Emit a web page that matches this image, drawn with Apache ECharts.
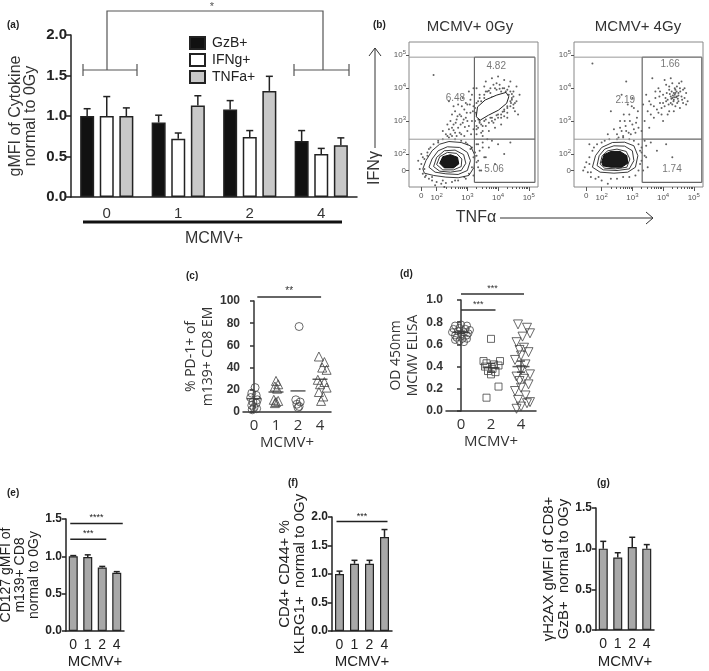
<!DOCTYPE html>
<html><head><meta charset="utf-8">
<script src="https://cdn.jsdelivr.net/npm/echarts@6/dist/echarts.min.js"></script>
<style>html,body{margin:0;padding:0;background:#fff}#c{width:709px;height:671px}</style>
</head><body><div id="c"></div>
<script>
// ---------- (a) ----------
const aCats = ['0','1','2','4'];
const aGzB = [1.00, 0.92, 1.08, 0.69];
const aGzBErr = [0.09, 0.09, 0.11, 0.13];
const aIFNg = [1.00, 0.72, 0.74, 0.53];
const aIFNgErr = [0.24, 0.07, 0.08, 0.07];
const aTNFa = [1.00, 1.13, 1.31, 0.64];
const aTNFaErr = [0.10, 0.12, 0.18, 0.09];

// ---------- (b) flow plots (axis units: 0 -> 1.5, 10^n -> n) ----------
const bTickVals = [1.5, 2, 3, 4, 5];
const bTickNames = ['0', '2', '3', '4', '5'];
const bPct0Gy = [[3.94, 4.67, '4.82'], [2.61, 3.70, '6.48'], [3.87, 1.53, '5.06']];
const bPct4Gy = [[4.23, 4.73, '1.66'], [2.77, 3.64, '2.19'], [4.29, 1.55, '1.74']];
const bGatesLight0Gy = [[1.1, 4.94, 3.23, 4.94], [1.1, 2.45, 3.23, 2.45]];
const bGatesDark0Gy = [[3.23, 4.94, 5.2, 4.94], [3.23, 2.45, 5.2, 2.45], [3.23, 1.14, 3.23, 4.94], [5.2, 1.14, 5.2, 4.94], [3.23, 1.14, 5.2, 1.14]];
const bGatesLight4Gy = [[1.1, 4.94, 3.32, 4.94], [1.1, 2.45, 3.32, 2.45]];
const bGatesDark4Gy = [[3.32, 4.94, 5.26, 4.94], [3.32, 2.45, 5.26, 2.45], [3.32, 1.14, 3.32, 4.94], [5.26, 1.14, 5.26, 4.94], [3.32, 1.14, 5.26, 1.14]];
const bRings0Gy = [
  [[1.55,1.55],[1.65,1.8],[1.85,2.1],[2.1,2.3],[2.4,2.38],[2.8,2.35],[3.1,2.25],[3.25,1.95],[3.22,1.6],[3.05,1.35],[2.7,1.28],[2.3,1.3],[1.9,1.35],[1.6,1.42]],
  [[1.75,1.6],[1.85,1.85],[2.05,2.1],[2.35,2.22],[2.75,2.2],[3.0,2.05],[3.1,1.8],[3.0,1.5],[2.7,1.38],[2.3,1.4],[1.95,1.45]],
  [[1.9,1.62],[2.0,1.9],[2.25,2.1],[2.6,2.12],[2.88,1.98],[2.95,1.72],[2.8,1.5],[2.45,1.45],[2.1,1.48]],
  [[2.0,1.68],[2.1,1.92],[2.35,2.05],[2.65,2.02],[2.82,1.85],[2.8,1.62],[2.55,1.52],[2.2,1.52]]
];
const bCore0Gy = [[[2.1,1.72],[2.2,1.92],[2.45,1.98],[2.68,1.9],[2.72,1.7],[2.55,1.58],[2.25,1.58]]];
const bBlob0Gy = [[[3.29,3.13],[3.33,3.43],[3.58,3.64],[3.96,3.79],[4.26,3.87],[4.35,3.74],[4.28,3.54],[4.01,3.33],[3.69,3.18],[3.42,3.03]]];
const bDots0Gy = [
  [1.45,1.55],[1.5,1.7],[1.55,1.4],[1.6,1.85],[1.62,1.3],[1.7,2.05],[1.75,1.25],[1.8,2.2],[1.85,1.2],[1.9,2.3],[2.0,1.15],[2.05,2.4],[2.15,1.1],[2.2,2.45],[2.3,1.12],[2.4,2.5],[2.5,1.15],[2.6,2.45],[2.7,1.2],[2.8,2.4],[2.9,1.3],[3.0,2.3],[3.05,1.4],[3.1,2.15],[3.15,1.6],[3.2,1.9],[3.25,2.05],[3.3,1.75],[3.35,2.3],[3.4,1.5],[1.5,2.0],[1.4,1.8],[3.5,2.2],[3.55,1.9],[2.25,1.0],[1.95,1.05],
  [1.6,1.55],[1.7,1.95],[1.65,1.35],[2.95,2.35],[3.15,2.2],[3.3,1.95],[3.35,1.6],[3.2,1.35],[2.95,1.25],[2.6,1.2],[2.2,1.2],[1.85,1.3],[1.55,1.9],[1.75,2.15],[2.05,2.35],
  [2.3,2.6],[2.4,2.75],[2.5,2.55],[2.55,2.9],[2.6,2.65],[2.65,3.05],[2.7,2.8],[2.75,3.2],[2.8,2.6],[2.85,2.95],[2.9,3.35],[2.95,3.1],[3.0,2.7],[3.0,3.5],[3.05,2.85],[3.1,3.25],[3.1,3.65],[3.15,3.0],[3.2,2.75],[3.2,3.45],[2.45,3.0],[2.6,3.3],[2.7,3.5],[2.85,3.7],[2.5,3.2],[2.9,2.55],[3.15,3.8],[2.35,2.9],[2.2,2.7],[2.75,2.65],[3.05,3.9],[2.95,3.55],[2.8,3.15],[2.65,2.55],[3.2,4.0],[2.55,3.45],[1.9,4.4],[2.4,3.6],
  [2.45,2.6],[2.55,2.72],[2.62,2.95],[2.78,2.9],[2.88,3.05],[2.98,3.25],[3.08,3.5],[3.12,2.6],[2.68,3.15],[2.92,2.82],[3.18,3.3],[2.82,3.45],[2.5,2.8],[2.35,2.55],[3.0,3.0],
  [3.3,2.6],[3.35,2.8],[3.4,3.0],[3.3,3.2],[3.45,3.4],[3.35,3.6],[3.5,2.7],[3.55,3.7],[3.6,2.85],[3.65,3.9],[3.7,2.95],[3.75,4.0],[3.8,3.0],[3.85,4.1],[3.9,3.05],[3.95,4.15],[4.0,3.1],[4.05,4.1],[4.1,3.2],[4.15,4.0],[4.2,3.3],[4.25,3.9],[4.3,3.45],[4.35,3.8],[4.4,3.6],[4.45,3.7],[4.5,3.5],[4.5,3.9],[4.55,3.3],[4.6,4.05],[3.4,3.8],[3.3,4.0],[3.6,4.2],[3.5,2.55],[3.7,2.7],[3.9,2.8],[4.1,2.9],[4.3,3.1],[4.6,3.6],[4.7,3.8],[4.0,4.35],[3.8,4.3],[4.4,4.2],[3.25,3.4],[3.45,2.65],[4.65,3.2],[4.2,4.25],[3.55,4.05],
  [3.25,3.0],[3.3,3.55],[3.4,3.7],[3.55,3.8],[3.7,3.92],[3.95,3.95],[4.2,4.0],[4.4,3.9],[4.45,3.65],[4.4,3.45],[4.2,3.35],[4.0,3.2],[3.8,3.1],[3.6,3.05],[3.45,2.9],[3.3,2.85],[4.3,3.25],[4.1,3.1],
  [3.35,3.15],[3.38,3.35],[3.5,3.5],[3.65,3.6],[3.8,3.72],[4.1,3.9],[4.3,3.95],[4.45,3.82],[4.42,3.55],[4.3,3.4],[4.15,3.28],[3.95,3.18],[3.75,3.1],[3.55,3.0],[3.4,2.95],[3.28,3.25],[3.36,3.05],[4.5,3.75],[4.35,4.05],[3.9,4.0],[3.6,3.9],[3.45,3.6],[4.5,3.4],[4.2,3.15],[3.85,2.95],[3.5,2.85],[3.3,2.75],[4.05,3.98],[3.75,3.85],[4.55,3.55],
  [3.3,2.3],[3.4,2.1],[3.5,2.35],[3.6,1.9],[3.7,2.2],[3.8,2.4],[3.9,1.7],[4.0,2.3],[4.2,2.0],[3.45,1.5],[3.35,1.8],[4.4,2.35],[3.65,2.45]
];
const bRings4Gy = [
  [[1.7,1.6],[1.8,1.95],[2.0,2.2],[2.35,2.35],[2.75,2.36],[3.05,2.25],[3.18,1.95],[3.1,1.6],[2.85,1.45],[2.4,1.42],[1.95,1.45]],
  [[1.85,1.65],[1.92,1.95],[2.1,2.15],[2.4,2.25],[2.75,2.24],[3.0,2.1],[3.05,1.8],[2.9,1.55],[2.5,1.5],[2.05,1.52]],
  [[1.95,1.7],[2.02,1.95],[2.2,2.1],[2.5,2.15],[2.8,2.08],[2.92,1.85],[2.82,1.6],[2.45,1.55],[2.1,1.57]]
];
const bCore4Gy = [[[2.0,1.75],[2.08,1.98],[2.3,2.08],[2.6,2.08],[2.82,1.95],[2.85,1.72],[2.65,1.6],[2.3,1.6],[2.05,1.64]]];
const bDots4Gy = [
  [1.45,1.6],[1.55,1.45],[1.6,1.9],[1.65,1.3],[1.7,2.1],[1.8,1.25],[1.85,2.3],[2.0,1.2],[2.1,2.4],[2.3,1.25],[2.5,2.45],[2.7,1.3],[2.9,2.45],[3.1,1.35],[3.2,2.3],[3.25,1.7],[3.3,2.05],[1.5,1.75],[1.4,1.5],[3.35,1.5],[2.2,1.1],[1.6,2.3],
  [1.6,1.7],[1.75,2.2],[2.0,2.35],[2.25,2.45],[2.7,2.5],[3.05,2.4],[3.25,2.1],[3.3,1.8],[3.2,1.5],[2.9,1.3],[2.5,1.25],[1.9,1.3],[1.65,1.45],[3.4,1.95],[3.45,2.25],
  [2.5,2.6],[2.6,2.8],[2.7,2.55],[2.75,3.0],[2.8,2.7],[2.9,3.2],[2.95,2.6],[3.0,2.9],[3.05,3.4],[3.1,2.65],[3.15,3.1],[3.2,2.8],[2.85,3.5],[2.6,3.0],[3.0,3.7],[2.4,2.75],[2.2,2.6],[1.7,4.75],[2.8,4.2],[2.3,3.3],[2.65,3.8],
  [2.55,2.5],[2.65,2.7],[2.78,2.85],[2.92,3.0],[3.05,2.75],[3.12,2.95],[3.18,3.3],[2.88,2.65],[2.98,3.45],[2.72,3.2],
  [3.3,2.7],[3.4,3.0],[3.5,3.3],[3.55,2.8],[3.6,3.5],[3.7,3.1],[3.75,3.7],[3.8,3.35],[3.85,4.0],[3.9,3.55],[3.95,3.2],[4.0,3.8],[4.05,3.45],[4.1,4.1],[4.15,3.65],[4.2,3.3],[4.2,3.95],[4.25,3.75],[4.3,3.5],[4.3,4.15],[4.35,3.85],[4.35,3.65],[4.4,3.95],[4.4,3.45],[4.45,3.75],[4.45,4.05],[4.5,3.6],[4.5,3.85],[4.55,3.4],[4.55,4.0],[4.6,3.75],[4.65,3.55],[4.65,3.95],[4.7,3.7],[4.75,3.85],[4.8,3.6],[4.3,3.7],[4.38,3.8],[4.42,3.72],[4.28,3.9],[4.48,3.68],[4.25,3.55],[4.6,4.2],[3.45,3.8],[3.65,4.3],[4.0,3.0],[3.35,3.5],[4.1,3.6],[3.9,3.9],[4.05,4.25],
  [4.32,3.78],[4.36,3.72],[4.4,3.85],[4.44,3.9],[4.34,3.6],[4.22,3.82],[4.27,3.68],[4.5,3.78],[4.46,3.55],[4.18,3.5],[4.12,3.85],[4.56,3.9],[4.62,3.65],[4.38,4.0],[4.2,4.05],[4.08,3.7],[4.0,3.55],[3.95,3.4],[3.85,3.25],[3.7,3.45],[3.6,3.2],[3.55,3.6],[3.75,3.9],[3.88,3.75],[4.7,4.0],[4.75,3.5],[4.52,4.15],[4.25,4.3],[4.35,3.3],[4.15,3.2],
  [3.3,2.2],[3.45,1.9],[3.6,2.35],[3.8,2.1],[4.1,2.3],[3.5,1.6],[4.3,1.9],[3.4,2.4]
];

// ---------- (c) ----------
const cCats = ['0','1','2','4'];
const cG0 = [[0.05,22],[-0.1,17],[0.1,15],[-0.15,13],[0.15,11],[-0.05,9],[0.1,8],[-0.1,6],[0.0,4],[0.12,3],[-0.08,2]];
const cG1 = [[0,28],[0.1,25],[-0.05,23],[0.05,21],[-0.1,11],[0.1,10],[0,9],[-0.05,8]];
const cG2 = [[0.05,77],[-0.1,11],[0.1,9],[-0.05,7],[0.05,5],[0.0,4]];
const cG4 = [[-0.05,50],[0.2,45],[0.1,40],[0.3,38],[-0.1,29],[0.2,27],[0.0,25],[0.3,22],[-0.05,18],[0.15,14],[0.05,10]];
const cMeans = [12, 18, 19, 29.5];

// ---------- (d) ----------
const dCats = ['0','2','4'];
const dG0 = [[-0.2,0.77],[0.0,0.78],[0.2,0.77],[-0.25,0.74],[-0.05,0.75],[0.15,0.74],[0.3,0.73],[-0.3,0.71],[-0.1,0.72],[0.1,0.71],[0.25,0.70],[-0.2,0.68],[0.0,0.69],[0.2,0.68],[-0.15,0.66],[0.05,0.65],[0.2,0.65],[-0.05,0.63],[0.1,0.62],[-0.2,0.64]];
const dG2 = [[0.0,0.65],[-0.25,0.45],[0.3,0.45],[-0.15,0.43],[0.1,0.42],[0.25,0.41],[-0.2,0.40],[0.05,0.38],[-0.1,0.36],[0.15,0.35],[0.0,0.33],[0.25,0.22],[-0.15,0.12]];
const dG4 = [[-0.1,0.78],[0.2,0.75],[0.3,0.70],[0.05,0.67],[-0.15,0.62],[0.1,0.57],[-0.05,0.55],[0.25,0.53],[0.0,0.50],[-0.2,0.46],[0.15,0.42],[0.0,0.37],[0.3,0.33],[-0.15,0.31],[0.1,0.29],[-0.05,0.27],[0.25,0.24],[0.0,0.21],[-0.2,0.18],[0.15,0.14],[-0.1,0.10],[0.2,0.07],[0.0,0.04],[-0.15,0.02],[0.3,0.08]];
const dMeans = [0.71, 0.39, 0.40];
const dSem = [0.01, 0.04, 0.05];

// ---------- (e) (f) (g) ----------
const eCats = ['0','1','2','4'];
const eVals = [1.00, 0.99, 0.85, 0.78];
const eErr = [0.01, 0.03, 0.015, 0.015];
const fVals = [1.00, 1.18, 1.18, 1.65];
const fErr = [0.05, 0.06, 0.06, 0.13];
const gVals = [1.00, 0.89, 1.02, 1.00];
const gErr = [0.09, 0.06, 0.12, 0.05];

// ================= helpers =================
const SANS = 'Liberation Sans';
const NARROW = "'Liberation Sans Narrow', 'Liberation Sans'";
const OPEN = "'Open Sans', 'Noto Sans'";
const INK = '#222';

function errSeries(xi, yi, vals, errs, offset, capW, color) {
  return {
    type: 'custom', xAxisIndex: xi, yAxisIndex: yi, silent: true, z: 3,
    data: vals.map((v, i) => [i, v, errs[i]]),
    renderItem: (p, api) => {
      const i = api.value(0), v = api.value(1), e = api.value(2);
      const a = api.coord([i, v]), b = api.coord([i, v + e]);
      const x = a[0] + offset;
      const st = { stroke: color || INK, lineWidth: 1.5 };
      return { type: 'group', children: [
        { type: 'line', shape: { x1: x, y1: a[1], x2: x, y2: b[1] }, style: st },
        { type: 'line', shape: { x1: x - capW / 2, y1: b[1], x2: x + capW / 2, y2: b[1] }, style: st }
      ]};
    }
  };
}
function segSeries(xi, yi, segs, color, lw) {
  return {
    type: 'custom', xAxisIndex: xi, yAxisIndex: yi, silent: true, z: 4, data: segs,
    renderItem: (p, api) => {
      const a = api.coord([api.value(0), api.value(1)]), b = api.coord([api.value(2), api.value(3)]);
      return { type: 'line', shape: { x1: a[0], y1: a[1], x2: b[0], y2: b[1] }, style: { stroke: color, lineWidth: lw } };
    }
  };
}
function polySeries(xi, yi, polys, fill, stroke, lw, z) {
  return {
    type: 'custom', xAxisIndex: xi, yAxisIndex: yi, silent: true, z: z,
    data: polys.map((q) => [q[0][0], q[0][1]]),
    renderItem: (p, api) => ({
      type: 'polygon',
      shape: { points: polys[p.dataIndex].map(q => api.coord(q)) },
      style: { fill: fill, stroke: stroke, lineWidth: lw }
    })
  };
}
function sigSeries(xi, yi, sigs, texts, fs, color) {
  return {
    type: 'custom', xAxisIndex: xi, yAxisIndex: yi, silent: true, z: 5, data: sigs,
    renderItem: (p, api) => {
      const a = api.coord([api.value(0), api.value(2)]), b = api.coord([api.value(1), api.value(2)]);
      const x1 = a[0] - api.value(3), x2 = b[0] + api.value(4);
      return { type: 'group', children: [
        { type: 'line', shape: { x1: x1, y1: a[1], x2: x2, y2: a[1] }, style: { stroke: color, lineWidth: 1.5 } },
        { type: 'text', style: { text: texts[p.dataIndex], x: (x1 + x2) / 2, y: a[1] - 1, align: 'center', verticalAlign: 'bottom', fontSize: fs, fill: color, fontFamily: SANS } }
      ]};
    }
  };
}
function jitter(cat, pts) { return pts.map(p => [cat + p[0], p[1]]); }

function flowFmt(v) {
  const i = bTickVals.indexOf(v);
  if (i === 0) return '{b|0}';
  return '{b|10}{s|' + bTickNames[i] + '}';
}
const flowRich = { b: { fontSize: 8, color: '#555', fontFamily: SANS }, s: { fontSize: 6, color: '#555', padding: [0, 0, 6, 0], fontFamily: SANS } };
const minorTicks = [];
[2, 3, 4, 5].forEach(d => { for (let k = 2; k <= 9; k++) { const v = d + Math.log10(k); if (v < 5.3) minorTicks.push(v); } });

function flowX(gi) {
  return [
    { type: 'value', gridIndex: gi, position: 'bottom', min: 1.1, max: 5.3, axisLine: { show: false }, splitLine: { show: false },
      axisTick: { show: true, customValues: bTickVals, length: 4, lineStyle: { color: '#555', width: 1 } },
      axisLabel: { customValues: bTickVals, formatter: flowFmt, rich: flowRich, margin: 5 } },
    { type: 'value', gridIndex: gi, position: 'bottom', offset: 0, min: 1.1, max: 5.3, axisLine: { show: false }, splitLine: { show: false },
      axisTick: { show: true, customValues: minorTicks, length: 2, lineStyle: { color: '#555', width: 1 } },
      axisLabel: { show: false } }
  ];
}
function flowY(gi) {
  return { type: 'value', gridIndex: gi, min: 1.0, max: 5.4, axisLine: { show: false }, splitLine: { show: false },
    axisTick: { show: true, customValues: bTickVals, length: 3, lineStyle: { color: '#555' } },
    axisLabel: { customValues: bTickVals, formatter: flowFmt, rich: flowRich, margin: 3 } };
}

function barCatX(gi, cats, nameGap) {
  return { type: 'category', gridIndex: gi, data: cats,
    axisLine: { lineStyle: { color: INK, width: 1.5 } },
    axisTick: { alignWithLabel: true, length: 4, lineStyle: { color: INK, width: 1.5 } },
    axisLabel: { fontSize: 14, color: INK, fontFamily: NARROW, margin: 7 },
    name: 'MCMV+', nameLocation: 'middle', nameGap: nameGap, nameTextStyle: { fontSize: 15, color: INK, fontFamily: NARROW } };
}
function narrowY(gi, max, interval, name, nameGap, fs) {
  return { type: 'value', gridIndex: gi, min: 0, max: max, interval: interval,
    axisLine: { show: true, lineStyle: { color: INK, width: 1.5 } },
    axisTick: { show: true, length: 4, lineStyle: { color: INK, width: 1.5 } },
    splitLine: { show: false },
    axisLabel: { formatter: v => v.toFixed(1), fontWeight: 'bold', fontSize: 12, color: INK, fontFamily: NARROW, margin: 4 },
    name: name, nameLocation: 'middle', nameRotate: 90, nameGap: nameGap,
    nameTextStyle: { fontSize: fs, lineHeight: fs, color: INK, fontFamily: NARROW } };
}

const grids = [
  { left: 71, top: 35, width: 286, height: 162 },
  { left: 409, top: 42, width: 129, height: 145, show: true, borderColor: '#888', borderWidth: 1 },
  { left: 574, top: 42, width: 129, height: 145, show: true, borderColor: '#888', borderWidth: 1 },
  { left: 243, top: 301, width: 88, height: 111 },
  { left: 446, top: 300, width: 90, height: 111 },
  { left: 66, top: 519, width: 58, height: 112 },
  { left: 332, top: 517, width: 60, height: 114 },
  { left: 596, top: 508, width: 58, height: 122 }
].map(g => Object.assign({ outerBoundsMode: 'none', containLabel: false }, g));

const xAxes = [
  { type: 'category', gridIndex: 0, data: aCats,
    axisLine: { lineStyle: { color: INK, width: 1.5 } },
    axisTick: { alignWithLabel: true, length: 4, lineStyle: { color: INK, width: 1.5 } },
    axisLabel: { fontSize: 15, color: '#333', fontFamily: SANS, margin: 9 },
    name: 'MCMV+', nameLocation: 'middle', nameGap: 34, nameTextStyle: { fontSize: 16, color: '#333', fontFamily: SANS } },
  ...flowX(1),
  ...flowX(2),
  { type: 'category', gridIndex: 3, data: cCats,
    axisLine: { lineStyle: { color: '#333', width: 1.5 } },
    axisTick: { alignWithLabel: true, length: 4, lineStyle: { color: '#333', width: 1.5 } },
    axisLabel: { fontSize: 15, color: '#333', fontFamily: OPEN, margin: 6 },
    name: 'MCMV+', nameLocation: 'middle', nameGap: 23, nameTextStyle: { fontSize: 15, color: '#333', fontFamily: OPEN } },
  { type: 'value', gridIndex: 3, min: -0.5, max: 3.5, show: false },
  { type: 'category', gridIndex: 4, data: dCats,
    axisLine: { lineStyle: { color: '#333', width: 1.5 } },
    axisTick: { alignWithLabel: true, length: 4, lineStyle: { color: '#333', width: 1.5 } },
    axisLabel: { fontSize: 15, color: '#333', fontFamily: OPEN, margin: 6 },
    name: 'MCMV+', nameLocation: 'middle', nameGap: 23, nameTextStyle: { fontSize: 15, color: '#333', fontFamily: OPEN } },
  { type: 'value', gridIndex: 4, min: -0.5, max: 2.5, show: false },
  barCatX(5, eCats, 23),
  barCatX(6, eCats, 23),
  barCatX(7, eCats, 24)
];

const yAxes = [
  { type: 'value', gridIndex: 0, min: 0, max: 2, interval: 0.5,
    axisLine: { show: true, lineStyle: { color: INK, width: 1.5 } },
    axisTick: { show: true, length: 5, lineStyle: { color: INK, width: 1.5 } },
    splitLine: { show: false },
    axisLabel: { formatter: v => v.toFixed(1), fontWeight: 'bold', fontSize: 15, color: INK, fontFamily: SANS, margin: 4 },
    name: 'gMFI of Cytokine\nnormal to 0Gy', nameLocation: 'middle', nameRotate: 90, nameGap: 33,
    nameTextStyle: { fontSize: 16, lineHeight: 15, color: '#333', fontFamily: SANS } },
  flowY(1),
  flowY(2),
  { type: 'value', gridIndex: 3, min: 0, max: 100, interval: 20,
    axisLine: { show: true, lineStyle: { color: '#333', width: 1.5 } },
    axisTick: { show: true, length: 4, lineStyle: { color: '#333', width: 1.5 } },
    splitLine: { show: false },
    axisLabel: { fontWeight: 'bold', fontSize: 12, color: '#333', fontFamily: NARROW, margin: 3 },
    name: '% PD-1+ of\nm139+ CD8 EM', nameLocation: 'middle', nameRotate: 90, nameGap: 25,
    nameTextStyle: { fontSize: 14, lineHeight: 17, color: '#333', fontFamily: OPEN } },
  { type: 'value', gridIndex: 4, min: 0, max: 1, interval: 0.2,
    axisLine: { show: true, lineStyle: { color: '#333', width: 1.5 } },
    axisTick: { show: true, length: 4, lineStyle: { color: '#333', width: 1.5 } },
    splitLine: { show: false },
    axisLabel: { formatter: v => v.toFixed(1), fontWeight: 'bold', fontSize: 12, color: '#333', fontFamily: NARROW, margin: 3 },
    name: 'OD 450nm\nMCMV ELISA', nameLocation: 'middle', nameRotate: 90, nameGap: 24,
    nameTextStyle: { fontSize: 14, lineHeight: 17, color: '#333', fontFamily: OPEN } },
  narrowY(5, 1.5, 0.5, 'CD127 gMFI of\nm139+ CD8\nnormal to 0Gy', 15, 14),
  narrowY(6, 2.0, 0.5, 'CD4+ CD44+ %\nKLRG1+  normal to 0Gy', 20, 15),
  narrowY(7, 1.5, 0.5, 'γH2AX gMFI of CD8+\nGzB+  normal to 0Gy', 17, 15)
];

const barBorder = { borderColor: INK, borderWidth: 1.5 };
const dotStyle = { color: '#3a3a3a' };
const series = [
  { name: 'GzB+', type: 'bar', xAxisIndex: 0, yAxisIndex: 0, data: aGzB, barWidth: 14, barGap: '40%', itemStyle: Object.assign({ color: '#111' }, barBorder) },
  { name: 'IFNg+', type: 'bar', xAxisIndex: 0, yAxisIndex: 0, data: aIFNg, barWidth: 14, barGap: '40%', itemStyle: Object.assign({ color: '#fff' }, barBorder) },
  { name: 'TNFa+', type: 'bar', xAxisIndex: 0, yAxisIndex: 0, data: aTNFa, barWidth: 14, barGap: '40%', itemStyle: Object.assign({ color: '#c8c8c8' }, barBorder) },
  errSeries(0, 0, aGzB, aGzBErr, -19.6, 7),
  errSeries(0, 0, aIFNg, aIFNgErr, 0, 7),
  errSeries(0, 0, aTNFa, aTNFaErr, 19.6, 7),

  { type: 'scatter', xAxisIndex: 1, yAxisIndex: 1, data: bDots0Gy, symbolSize: 2, itemStyle: dotStyle, silent: true, z: 2 },
  polySeries(1, 1, bRings0Gy, 'rgba(0,0,0,0)', '#222', 0.9, 3),
  polySeries(1, 1, bCore0Gy, '#1a1a1a', '#111', 1, 3),
  polySeries(1, 1, bBlob0Gy, '#fff', '#222', 1, 3),
  segSeries(1, 1, bGatesLight0Gy, '#999', 1),
  segSeries(1, 1, bGatesDark0Gy, '#666', 1.2),
  { type: 'scatter', xAxisIndex: 1, yAxisIndex: 1, data: bPct0Gy, symbolSize: 0, silent: true, z: 6,
    label: { show: true, position: 'inside', formatter: p => p.value[2], fontSize: 10, color: '#555', fontFamily: SANS } },

  { type: 'scatter', xAxisIndex: 3, yAxisIndex: 2, data: bDots4Gy, symbolSize: 2, itemStyle: dotStyle, silent: true, z: 2 },
  polySeries(3, 2, bRings4Gy, 'rgba(0,0,0,0)', '#222', 0.9, 3),
  polySeries(3, 2, bCore4Gy, '#1a1a1a', '#111', 1, 3),
  segSeries(3, 2, bGatesLight4Gy, '#999', 1),
  segSeries(3, 2, bGatesDark4Gy, '#666', 1.2),
  { type: 'scatter', xAxisIndex: 3, yAxisIndex: 2, data: bPct4Gy, symbolSize: 0, silent: true, z: 6,
    label: { show: true, position: 'inside', formatter: p => p.value[2], fontSize: 10, color: '#555', fontFamily: SANS } },

  { type: 'scatter', xAxisIndex: 6, yAxisIndex: 3, data: jitter(0, cG0), symbol: 'circle', symbolSize: 8, itemStyle: { color: 'rgba(0,0,0,0)', borderColor: '#444', borderWidth: 1 } },
  { type: 'scatter', xAxisIndex: 6, yAxisIndex: 3, data: jitter(1, cG1), symbol: 'triangle', symbolSize: 9, itemStyle: { color: 'rgba(0,0,0,0)', borderColor: '#444', borderWidth: 1 } },
  { type: 'scatter', xAxisIndex: 6, yAxisIndex: 3, data: jitter(2, cG2), symbol: 'circle', symbolSize: 8, itemStyle: { color: 'rgba(0,0,0,0)', borderColor: '#444', borderWidth: 1 } },
  { type: 'scatter', xAxisIndex: 6, yAxisIndex: 3, data: jitter(3, cG4), symbol: 'triangle', symbolSize: 9, itemStyle: { color: 'rgba(0,0,0,0)', borderColor: '#444', borderWidth: 1 } },
  { type: 'scatter', xAxisIndex: 6, yAxisIndex: 3, data: cMeans.map((m, i) => [i, m]), symbol: 'rect', symbolSize: [15, 1.5], itemStyle: { color: '#333' } },
  sigSeries(6, 3, [[0.15, 3.05, 103.6, 0, 0]], ['**'], 10, '#333'),

  { type: 'scatter', xAxisIndex: 8, yAxisIndex: 4, data: jitter(0, dG0), symbol: 'circle', symbolSize: 7, itemStyle: { color: 'rgba(0,0,0,0)', borderColor: '#444', borderWidth: 1 } },
  { type: 'scatter', xAxisIndex: 8, yAxisIndex: 4, data: jitter(1, dG2), symbol: 'rect', symbolSize: 7, itemStyle: { color: 'rgba(0,0,0,0)', borderColor: '#444', borderWidth: 1 } },
  { type: 'scatter', xAxisIndex: 8, yAxisIndex: 4, data: jitter(2, dG4), symbol: 'triangle', symbolRotate: 180, symbolSize: 9, itemStyle: { color: 'rgba(0,0,0,0)', borderColor: '#444', borderWidth: 1 } },
  { type: 'scatter', xAxisIndex: 8, yAxisIndex: 4, data: dMeans.map((m, i) => [i, m]), symbol: 'rect', symbolSize: [17, 1.5], itemStyle: { color: '#333' } },
  { type: 'custom', xAxisIndex: 8, yAxisIndex: 4, silent: true, data: dMeans.map((m, i) => [i, m, dSem[i]]),
    renderItem: (p, api) => {
      const lo = api.coord([api.value(0), api.value(1) - api.value(2)]), hi = api.coord([api.value(0), api.value(1) + api.value(2)]);
      const st = { stroke: '#333', lineWidth: 1.3 };
      return { type: 'group', children: [
        { type: 'line', shape: { x1: lo[0], y1: lo[1], x2: hi[0], y2: hi[1] }, style: st },
        { type: 'line', shape: { x1: lo[0] - 4, y1: lo[1], x2: lo[0] + 4, y2: lo[1] }, style: st },
        { type: 'line', shape: { x1: hi[0] - 4, y1: hi[1], x2: hi[0] + 4, y2: hi[1] }, style: st }
      ]};
    } },
  sigSeries(8, 4, [[0, 2.1, 1.054, 0, 0], [0, 1.15, 0.91, 0, 0]], ['***', '***'], 9, '#333'),

  { type: 'bar', xAxisIndex: 9, yAxisIndex: 5, data: eVals, barWidth: 9, itemStyle: { color: '#a8a8a8', borderColor: INK, borderWidth: 1.2 } },
  errSeries(9, 5, eVals, eErr, 0, 6),
  sigSeries(9, 5, [[0, 3, 1.44, 3, 6], [0, 2, 1.23, 3, 4]], ['****', '***'], 9, INK),
  { type: 'bar', xAxisIndex: 10, yAxisIndex: 6, data: fVals, barWidth: 9, itemStyle: { color: '#a8a8a8', borderColor: INK, borderWidth: 1.2 } },
  errSeries(10, 6, fVals, fErr, 0, 6),
  sigSeries(10, 6, [[0, 3, 1.92, 3, 3]], ['***'], 9, INK),
  { type: 'bar', xAxisIndex: 11, yAxisIndex: 7, data: gVals, barWidth: 9, itemStyle: { color: '#a8a8a8', borderColor: INK, borderWidth: 1.2 } },
  errSeries(11, 7, gVals, gErr, 0, 6)
];

function txt(x, y, s, fs, opts) {
  return { type: 'text', x: x, y: y, style: Object.assign({ text: s, fontSize: fs, fill: INK, fontFamily: SANS, align: 'left', verticalAlign: 'middle' }, opts || {}) };
}
const graphic = [
  txt(7, 25, '(a)', 10, { fontWeight: 'bold' }),
  txt(373, 25, '(b)', 10, { fontWeight: 'bold' }),
  txt(186, 276, '(c)', 10, { fontWeight: 'bold' }),
  txt(400, 274, '(d)', 10, { fontWeight: 'bold' }),
  txt(7, 493, '(e)', 10, { fontWeight: 'bold' }),
  txt(288, 483, '(f)', 10, { fontWeight: 'bold' }),
  txt(597, 483, '(g)', 10, { fontWeight: 'bold' }),
  { type: 'polyline', shape: { points: [[107, 70], [107, 11], [323, 11], [323, 70]] }, style: { stroke: '#555', lineWidth: 1.2, fill: null } },
  { type: 'line', shape: { x1: 83, y1: 70, x2: 137, y2: 70 }, style: { stroke: '#555', lineWidth: 1.2 } },
  { type: 'line', shape: { x1: 83, y1: 64, x2: 83, y2: 76 }, style: { stroke: '#555', lineWidth: 1.2 } },
  { type: 'line', shape: { x1: 137, y1: 64, x2: 137, y2: 76 }, style: { stroke: '#555', lineWidth: 1.2 } },
  { type: 'line', shape: { x1: 294, y1: 70, x2: 349, y2: 70 }, style: { stroke: '#555', lineWidth: 1.2 } },
  { type: 'line', shape: { x1: 294, y1: 64, x2: 294, y2: 76 }, style: { stroke: '#555', lineWidth: 1.2 } },
  { type: 'line', shape: { x1: 349, y1: 64, x2: 349, y2: 76 }, style: { stroke: '#555', lineWidth: 1.2 } },
  txt(212, 7, '*', 11, { align: 'center', fill: '#555' }),
  { type: 'rect', shape: { x: 83, y: 220.5, width: 259, height: 3 }, style: { fill: '#111' } },
  txt(470, 27, 'MCMV+ 0Gy', 15, { align: 'center', fill: '#333' }),
  txt(638, 27, 'MCMV+ 4Gy', 15, { align: 'center', fill: '#333' }),
  { type: 'text', x: 375, y: 168, rotation: Math.PI / 2, style: { text: 'IFNγ', fontSize: 16, fill: '#333', fontFamily: SANS, align: 'center', verticalAlign: 'middle' } },
  { type: 'line', shape: { x1: 375, y1: 148, x2: 375, y2: 48 }, style: { stroke: '#333', lineWidth: 1 } },
  { type: 'polyline', shape: { points: [[369, 56], [375, 48], [381, 56]] }, style: { stroke: '#333', lineWidth: 1, fill: null } },
  txt(476, 218, 'TNFα', 16, { align: 'center', fill: '#333' }),
  { type: 'line', shape: { x1: 500, y1: 218, x2: 653, y2: 218 }, style: { stroke: '#333', lineWidth: 1 } },
  { type: 'polyline', shape: { points: [[646, 212], [653, 218], [646, 224]] }, style: { stroke: '#333', lineWidth: 1, fill: null } }
];

const chart = echarts.init(document.getElementById('c'), null, { renderer: 'canvas' });
chart.setOption({
  animation: false,
  backgroundColor: '#fff',
  textStyle: { fontFamily: SANS },
  grid: grids,
  xAxis: xAxes,
  yAxis: yAxes,
  legend: { data: ['GzB+', 'IFNg+', 'TNFa+'], left: 184, top: 31, orient: 'vertical', icon: 'rect',
    itemWidth: 15, itemHeight: 12, itemGap: 3, selectedMode: false,
    textStyle: { fontSize: 14, color: '#222', fontFamily: SANS, padding: [0, 0, 0, 2] } },
  series: series,
  graphic: graphic
});
</script>
</body></html>
